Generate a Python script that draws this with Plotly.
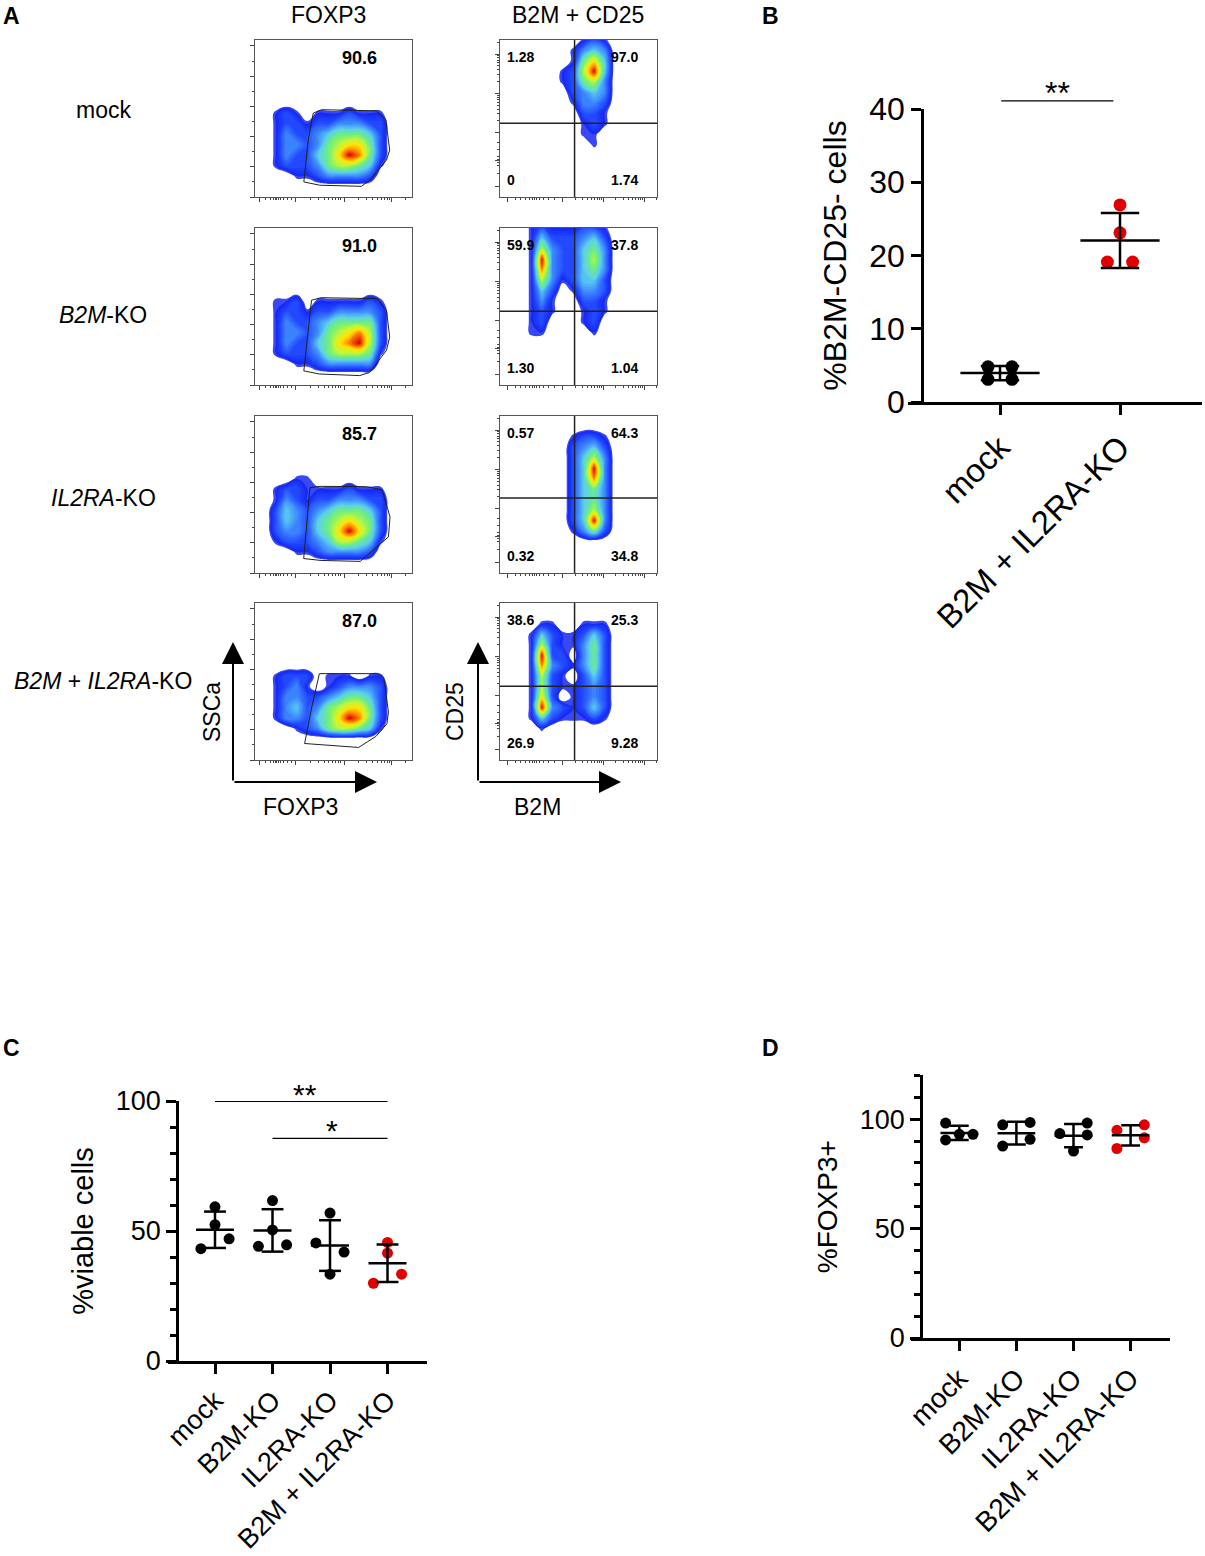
import numpy as np
import plotly.graph_objects as go

W, H = 1205, 1556
FONT = "Liberation Sans, Arial, Helvetica, sans-serif"

# =============================================================================
# DATA
# =============================================================================

# ---- panel A : flow plots ----
a_rows = ["mock", "<i>B2M</i>-KO", "<i>IL2RA</i>-KO", "<i>B2M</i> + <i>IL2RA</i>-KO"]
foxp3_pct = ["90.6", "91.0", "85.7", "87.0"]
# quadrant %: upper-left, upper-right, lower-left, lower-right
quad_pct = [
    ["1.28", "97.0", "0", "1.74"],
    ["59.9", "37.8", "1.30", "1.04"],
    ["0.57", "64.3", "0.32", "34.8"],
    ["38.6", "25.3", "26.9", "9.28"],
]
quad_h = [0.47, 0.47, 0.478, 0.47]
quad_v = 0.475

# pseudocolour density: 16x16 cells, top row first, 0 empty .. 9 red
foxp3_density = [
    ["0000000000000000", "0000000000000000", "0000000000000000", "0000000000000000",
     "0000000000000000", "0000000000000000", "0000000000000000", "0012101112111000",
     "0012212233322000", "0013223455542000", "0013323567752000", "0013224579852000",
     "0012223566541000", "0000112333320000", "0000000000000000", "0000000000000000"],
    ["0000000000000000", "0000000000000000", "0000000000000000", "0000000000000000",
     "0000000000000000", "0000000000000000", "0000000000000000", "0011201111121000",
     "0012212233332000", "0013223455552000", "0013323567862000", "0013224578962000",
     "0012223566651000", "0000112333330000", "0000000000000000", "0000000000000000"],
    ["0000000000000000", "0000000000000000", "0000000000000000", "0000000000000000",
     "0000000000000000", "0000000000000000", "0000110000000000", "0012211112111000",
     "0013212233322000", "0024323455542000", "0024324567652000", "0023324579752000",
     "0012223466541000", "0000112333320000", "0000000000000000", "0000000000000000"],
    ["0000000000000000", "0000000000000000", "0000000000000000", "0000000000000000",
     "0000000000000000", "0000000000000000", "0000000000000000", "0012220111011000",
     "0012310123332000", "0013322345542000", "0013423567752000", "0013324579852000",
     "0000123566541000", "0000000000000000", "0000000000000000", "0000000000000000"],
]
b2m_density = [
    ["0000000012100000", "0000000134300000", "0000000157400000", "0000001269400000",
     "0000001256300000", "0000000234300000", "0000000133200000", "0000000022100000",
     "0000000012100000", "0000000011000000", "0000000001000000", "0000000000000000",
     "0000000000000000", "0000000000000000", "0000000000000000", "0000000000000000"],
    ["0001211122100000", "0001422234200000", "0001632245300000", "0001932246300000",
     "0001832245300000", "0001631244200000", "0001420133200000", "0001310022100000",
     "0001210012100000", "0001200012000000", "0001100001000000", "0000000000000000",
     "0000000000000000", "0000000000000000", "0000000000000000", "0000000000000000"],
    ["0000000000000000", "0000000000000000", "0000000122100000", "0000000234200000",
     "0000000246300000", "0000000249300000", "0000000248300000", "0000000245300000",
     "0000000245300000", "0000000246300000", "0000000249300000", "0000000135200000",
     "0000000000000000", "0000000000000000", "0000000000000000", "0000000000000000"],
    ["0000000000000000", "0000000000000000", "0000110011100000", "0001421124200000",
     "0001621135200000", "0001922035200000", "0001832135200000", "0001621024200000",
     "0001621123200000", "0001720123200000", "0001932124200000", "0001421112100000",
     "0000100000000000", "0000000000000000", "0000000000000000", "0000000000000000"],
]
gate_x = [
    [.311, .339, .371, .424, .773, .833, .858, .837, .731, .678, .413, .311],
    [.311, .335, .360, .420, .780, .837, .858, .837, .730, .667, .410, .311],
    [.310, .330, .350, .414, .710, .810, .860, .850, .670, .420, .310],
    [.316, .360, .410, .780, .820, .850, .840, .770, .660, .316],
]
gate_y = [
    [.096, .363, .534, .556, .549, .491, .299, .235, .107, .068, .075, .096],
    [.090, .330, .540, .556, .550, .476, .305, .220, .080, .060, .070, .090],
    [.092, .330, .543, .552, .550, .530, .357, .230, .074, .080, .092],
    [.105, .330, .550, .550, .526, .305, .230, .150, .080, .105],
]

# ---- panel B ----
b_groups = ["mock", "B2M + IL2RA-KO"]
b_vals = [[4.8, 4.8, 3.1, 3.1], [26.9, 23.1, 19.1, 19.1]]
b_offs = [[-0.1, 0.1, -0.1, 0.1], [0, 0, -0.105, 0.105]]
b_cols = ["#000000", "#e00000"]

# ---- panels C and D ----
cd_groups = ["mock", "B2M-KO", "IL2RA-KO", "B2M + IL2RA-KO"]
cd_cols = ["#000000", "#000000", "#000000", "#e00000"]
c_vals = [[59.3, 52.4, 47.0, 43.2], [61.7, 50.4, 44.1, 44.7],
          [56.9, 45.4, 41.9, 33.4], [45.6, 41.5, 33.4, 29.9]]
c_offs = [[0, 0, 0.245, -0.245], [0, 0, -0.245, 0.245],
          [0, -0.245, 0.245, 0], [0, 0, 0.245, -0.245]]
d_vals = [[98.2, 90.5, 93.1, 93.1], [97.4, 98.5, 90.8, 87.7],
          [93.4, 98.2, 92.8, 85.4], [94.9, 86.6, 97.4, 91.5]]
d_offs = [[-0.24, -0.24, 0, 0.24], [-0.24, 0.24, 0.24, -0.24],
          [-0.24, 0.24, 0.24, 0], [-0.24, -0.24, 0.24, 0.24]]


# =============================================================================
# HELPERS
# =============================================================================
def px(x):
    return x / W


def py(y):
    return 1 - y / H


def names(n):
    s = "" if n == 1 else str(n)
    return "x" + s, "y" + s, "xaxis" + s, "yaxis" + s


def log_ticks(decades, span, upto=1.0):
    out = []
    for d in decades:
        for k in range(2, 10):
            t = d + span * np.log10(k)
            if t <= upto:
                out.append(round(t, 4))
    return out


def label(x, y, text, size, angle=0, **kw):
    # paper-anchored text, centred on the given pixel position
    d = dict(x=px(x), y=py(y), xref="paper", yref="paper", showarrow=False, text=text,
             textangle=angle, xanchor="center", yanchor="middle", font=dict(size=size))
    d.update(kw)
    return d


jet = [[0, "#ffffff"], [0.04, "#ffffff"], [0.045, "#1020f0"], [0.16, "#2348ff"],
       [0.30, "#3f8cff"], [0.42, "#5cd0ea"], [0.55, "#6ff07a"], [0.67, "#c6f53a"],
       [0.78, "#ffe400"], [0.89, "#ff7800"], [1.0, "#d80000"]]
cells = np.linspace(0, 1, 16)

fig = go.Figure()
annotations = []
shapes = []

# =============================================================================
# PANEL A
# =============================================================================
col_x = [(255, 412), (500, 657)]
row_y = [(40, 197), (228, 385), (416, 573), (603, 760)]
row_label_y = [110, 315, 498, 681]

tick_sets = {
    0: dict(xmaj=[.03, .26, .57, .87],
            xmin=log_ticks([.26, .57, .87], .30) + [.07, .1, .12, .13, .14, .15, .16, .18, .21, .23],
            ymaj=[0, .192, .385, .577, .769, .962],
            ymin=[.096, .288, .481, .673, .865]),
    1: dict(xmaj=[.05, .40, .66, .92],
            xmin=log_ticks([.40, .66, .92], .26) + [.1, .13, .16, .19, .21, .22, .23, .25, .28, .31, .35],
            ymaj=[.07, .23, .41, .66, .91],
            ymin=log_ticks([.41, .66, .91], .25) + [.15, .2, .22, .24, .26, .3, .35]),
}

for r in range(4):
    for c in range(2):
        n = r * 2 + c + 1
        xa, ya, xl, yl = names(n)
        grid = foxp3_density[r] if c == 0 else b2m_density[r]
        z = np.array([[int(ch) for ch in row] for row in grid[::-1]], dtype=float)
        fig.add_trace(go.Contour(
            x=cells, y=cells, z=z, xaxis=xa, yaxis=ya,
            zmin=0, zmax=9, autocontour=False,
            contours=dict(start=0.5, end=9, size=0.25, coloring="fill", showlines=False),
            line=dict(width=0, smoothing=1.3), colorscale=jet, showscale=False,
            hoverinfo="skip"))
        ts = tick_sets[c]
        base = dict(range=[0, 1], showline=True, mirror=True, linecolor="#555", linewidth=1,
                    showgrid=False, zeroline=False, showticklabels=False, ticks="outside",
                    ticklen=4, tickwidth=1, tickcolor="#444", fixedrange=True)
        fig.layout[xl] = dict(base, domain=[px(col_x[c][0]), px(col_x[c][1])], anchor=ya,
                              tickmode="array", tickvals=ts["xmaj"],
                              minor=dict(ticks="outside", ticklen=2, tickcolor="#444",
                                         tickmode="array", tickvals=ts["xmin"]))
        fig.layout[yl] = dict(base, domain=[py(row_y[r][1]), py(row_y[r][0])], anchor=xa,
                              tickmode="array", tickvals=ts["ymaj"],
                              minor=dict(ticks="outside", ticklen=2, tickcolor="#444",
                                         tickmode="array", tickvals=ts["ymin"]))
        if c == 0:
            fig.add_trace(go.Scatter(x=gate_x[r], y=gate_y[r], xaxis=xa, yaxis=ya, mode="lines",
                                     line=dict(color="#222", width=1), hoverinfo="skip"))
            annotations.append(dict(x=0.667, y=0.887, xref=xa, yref=ya, showarrow=False,
                                    xanchor="center", yanchor="middle",
                                    text="<b>%s</b>" % foxp3_pct[r], font=dict(size=18)))
        else:
            shapes.append(dict(type="line", xref=xa, yref=ya, x0=quad_v, x1=quad_v, y0=0, y1=1,
                               line=dict(color="#222", width=1.5)))
            shapes.append(dict(type="line", xref=xa, yref=ya, x0=0, x1=1, y0=quad_h[r], y1=quad_h[r],
                               line=dict(color="#222", width=1.5)))
            qp = quad_pct[r]
            for txt, qx, qy, anc in [(qp[0], 0.03, 0.89, "left"), (qp[1], 0.79, 0.89, "center"),
                                     (qp[2], 0.03, 0.11, "left"), (qp[3], 0.79, 0.11, "center")]:
                annotations.append(dict(x=qx, y=qy, xref=xa, yref=ya, showarrow=False,
                                        xanchor=anc, yanchor="middle",
                                        text="<b>%s</b>" % txt, font=dict(size=14)))
    annotations.append(label(103, row_label_y[r], a_rows[r], 23))

# column headers, axis arrows and their labels
annotations.append(label(328, 15, "FOXP3", 23))
annotations.append(label(578, 15, "B2M + CD25", 23))
for ox, tipx in [(233, 377), (478, 621)]:
    annotations.append(dict(x=px(ox), y=py(642), xref="paper", yref="paper", showarrow=True,
                            ax=0, ay=140, text="", arrowhead=2, arrowsize=2.2, arrowwidth=2,
                            arrowcolor="black"))
    annotations.append(dict(x=px(tipx), y=py(782), xref="paper", yref="paper", showarrow=True,
                            ax=-(tipx - ox), ay=0, text="", arrowhead=2, arrowsize=2.2,
                            arrowwidth=2, arrowcolor="black"))
annotations.append(label(212, 712, "SSCa", 23, -90))
annotations.append(label(300, 807, "FOXP3", 23))
annotations.append(label(455, 712, "CD25", 23, -90))
annotations.append(label(537, 807, "B2M", 23))

# panel letters
for txt, x, y in [("A", 11, 16), ("B", 771, 16), ("C", 11, 1048), ("D", 771, 1048)]:
    annotations.append(label(x, y, "<b>%s</b>" % txt, 23))


# =============================================================================
# DOT PANELS B, C, D
# =============================================================================
def dot_panel(n, groups, vals, offs, cols, xpix, ypix, yrange, yaxis_px, cat0_px, cat_step,
              major, minor, title, fs_tick, fs_cat, fs_title, msize, mean_hw, cap_hw):
    xa, ya, xl, yl = names(n)
    for k in range(len(groups)):
        fig.add_trace(go.Scatter(x=[k + o for o in offs[k]], y=vals[k], xaxis=xa, yaxis=ya,
                                 mode="markers", marker=dict(color=cols[k], size=msize),
                                 hoverinfo="skip"))
    lx, ly = [], []
    for k in range(len(groups)):
        m = float(np.mean(vals[k]))
        s = float(np.std(vals[k], ddof=1))
        lx += [k - mean_hw, k + mean_hw, None, k, k, None,
               k - cap_hw, k + cap_hw, None, k - cap_hw, k + cap_hw, None]
        ly += [m, m, None, m - s, m + s, None, m + s, m + s, None, m - s, m - s, None]
    fig.add_trace(go.Scatter(x=lx, y=ly, xaxis=xa, yaxis=ya, mode="lines",
                             line=dict(color="black", width=2.5), hoverinfo="skip"))
    xr = [(xpix[0] - cat0_px) / cat_step, (xpix[1] - cat0_px) / cat_step]
    fig.layout[xl] = dict(domain=[px(xpix[0]), px(xpix[1])], range=xr, anchor=ya,
                          showline=True, linecolor="black", linewidth=2.5, showgrid=False,
                          zeroline=False, ticks="outside", ticklen=10, tickwidth=2.5,
                          tickcolor="black", tickmode="array",
                          tickvals=list(range(len(groups))), ticktext=groups, tickangle=-45,
                          tickfont=dict(size=fs_cat, color="black"), fixedrange=True)
    ydef = dict(domain=[py(ypix[0]), py(ypix[1])], range=yrange, anchor="free",
                position=px(yaxis_px), showline=True, linecolor="black", linewidth=2.5,
                showgrid=False, zeroline=False, ticks="outside", ticklen=10, tickwidth=2.5,
                tickcolor="black", tickmode="array", tickvals=major,
                tickfont=dict(size=fs_tick, color="black"),
                title=dict(text=title, font=dict(size=fs_title, color="black"), standoff=12),
                fixedrange=True)
    if minor:
        ydef["minor"] = dict(ticks="outside", ticklen=6, tickwidth=2.5, tickcolor="black",
                             tickmode="array", tickvals=minor)
    fig.layout[yl] = ydef


def yval_to_paper(v, ypix, yrange):
    p0, p1 = py(ypix[0]), py(ypix[1])
    return p0 + (v - yrange[0]) / (yrange[1] - yrange[0]) * (p1 - p0)


def xcat_to_paper(k, cat0_px, cat_step):
    return px(cat0_px + k * cat_step)


# panel B
B_Y = (402, 109)
dot_panel(9, b_groups, b_vals, b_offs, b_cols, (908, 1202), B_Y, [0, 40], 922, 1000, 120,
          [0, 10, 20, 30, 40], None, "%B2M-CD25- cells", 32, 33, 32, 13, 0.33, 0.16)
# panel C
C_Y = (1361, 1101)
dot_panel(10, cd_groups, c_vals, c_offs, cd_cols, (168, 427), C_Y, [0, 100], 177, 215, 57.5,
          [0, 50, 100], list(range(0, 101, 10)), "%viable cells", 27, 27, 29, 11, 0.33, 0.19)
# panel D
D_Y = (1338, 1075.4)
dot_panel(11, cd_groups, d_vals, d_offs, cd_cols, (911, 1170), D_Y, [0, 120], 921, 959.3, 57.1,
          [0, 50, 100], list(range(0, 121, 10)), "%FOXP3+", 27, 28, 28, 11, 0.33, 0.165)

# significance bars
for k0, k1, v, star, sx, sv, ypix, yr, c0, st in [
        (0.01, 0.945, 41.1, "**", 0.48, 39.4, B_Y, [0, 40], 1000, 120),
        (0, 3, 99.8, "**", 1.57, 95.5, C_Y, [0, 100], 215, 57.5),
        (1, 3, 85.6, "*", 2.03, 81.6, C_Y, [0, 100], 215, 57.5)]:
    yb = yval_to_paper(v, ypix, yr)
    shapes.append(dict(type="line", xref="paper", yref="paper",
                       x0=xcat_to_paper(k0, c0, st), x1=xcat_to_paper(k1, c0, st), y0=yb, y1=yb,
                       line=dict(color="black", width=1.2)))
    annotations.append(dict(x=xcat_to_paper(sx, c0, st), y=yval_to_paper(sv, ypix, yr),
                            xref="paper", yref="paper", xanchor="center", yanchor="bottom",
                            showarrow=False, text=star,
                            font=dict(size=32 if ypix == B_Y else 30)))

fig.update_layout(
    width=W, height=H, margin=dict(l=0, r=0, t=0, b=0, pad=0, autoexpand=False),
    paper_bgcolor="white", plot_bgcolor="rgba(0,0,0,0)",
    font=dict(family=FONT, color="black"),
    showlegend=False, annotations=annotations, shapes=shapes,
)

# the page body has a default 8px margin; drop it so the figure fills the window
fig.write_html("out.html", config={"displayModeBar": False},
               post_script="document.body.style.margin = '0';")
